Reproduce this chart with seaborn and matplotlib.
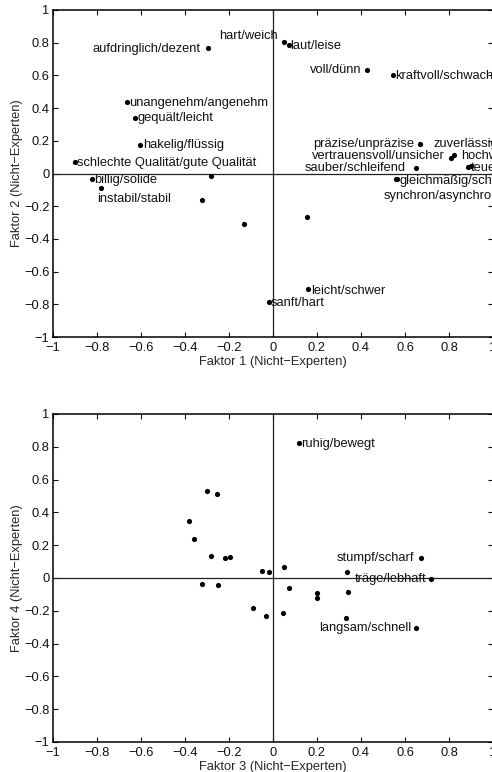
import numpy as np
import pandas as pd
import seaborn as sns
import matplotlib
matplotlib.use("Agg")
import matplotlib.pyplot as plt

# Faktor 1 / Faktor 2 (Nicht-Experten)
labels_12 = ["hart/weich", "laut/leise", "aufdringlich/dezent", "voll/dünn",
             "kraftvoll/schwach", "unangenehm/angenehm", "gequält/leicht",
             "hakelig/flüssig", "schlechte Qualität/gute Qualität", "billig/solide",
             "instabil/stabil", "präzise/unpräzise", "zuverlässig/unzuverlässig",
             "vertrauensvoll/unsicher", "hochwertig/minderwertig", "sauber/schleifend",
             "teuer/billig", "gleichmäßig/schwankend", "synchron/asynchron",
             "leicht/schwer", "sanft/hart", "", "", "", ""]
faktor1 = [0.051, 0.071, -0.297, 0.429, 0.544, -0.664, -0.626, -0.603, -0.901, -0.823,
           -0.780, 0.670, 0.900, 0.808, 0.823, 0.648, 0.885, 0.559, 0.563, 0.161,
           -0.018, -0.283, -0.324, -0.133, 0.153]
faktor2 = [0.806, 0.784, 0.770, 0.633, 0.602, 0.439, 0.341, 0.176, 0.070, -0.034,
           -0.087, 0.179, 0.048, 0.097, 0.113, 0.034, 0.038, -0.036, -0.032, -0.708,
           -0.788, -0.013, -0.162, -0.307, -0.264]

# Faktor 3 / Faktor 4 (Nicht-Experten)
labels_34 = ["ruhig/bewegt", "stumpf/scharf", "träge/lebhaft", "langsam/schnell"] + [""] * 21
faktor3 = [0.117, 0.671, 0.718, 0.652, -0.300, -0.255, -0.380, -0.361, -0.280, -0.220,
           -0.197, -0.321, -0.250, -0.049, -0.017, 0.050, 0.074, -0.091, -0.032, 0.047,
           0.201, 0.201, 0.335, 0.342, 0.332]
faktor4 = [0.821, 0.124, -0.004, -0.307, 0.530, 0.514, 0.345, 0.240, 0.136, 0.122,
           0.128, -0.039, -0.041, 0.045, 0.035, 0.067, -0.061, -0.183, -0.230, -0.215,
           -0.093, -0.120, 0.038, -0.087, -0.246]

tick_vals = [-1, -0.8, -0.6, -0.4, -0.2, 0, 0.2, 0.4, 0.6, 0.8, 1]
tick_labels = ["\u22121", "\u22120.8", "\u22120.6", "\u22120.4", "\u22120.2", "0",
               "0.2", "0.4", "0.6", "0.8", "1"]

# placement of the labels (ha, dx, dy in pixels)
place_12 = {
    "hart/weich": ("right", -6.6, 5.7),
    "laut/leise": ("left", 1.5, -0.7),
    "aufdringlich/dezent": ("right", -7, -1.3),
    "voll/dünn": ("right", -5.6, 0),
    "kraftvoll/schwach": ("left", 2.6, -1),
    "unangenehm/angenehm": ("left", 2.3, -1.2),
    "gequält/leicht": ("left", 2.4, -0.5),
    "hakelig/flüssig": ("left", 3, -0.5),
    "schlechte Qualität/gute Qualität": ("left", 2.6, -0.5),
    "billig/solide": ("left", 2.7, -0.5),
    "instabil/stabil": ("left", -4.6, -11.5),
    "präzise/unpräzise": ("right", -6.3, 0),
    "zuverlässig/unzuverlässig": ("left", -37.7, 21.7),
    "vertrauensvoll/unsicher": ("right", -6.4, 1.7),
    "hochwertig/minderwertig": ("left", 7, -1),
    "sauber/schleifend": ("right", -9.7, 0),
    "teuer/billig": ("left", 3, -0.7),
    "gleichmäßig/schwankend": ("left", 3.3, -1.4),
    "synchron/asynchron": ("left", -13.6, -17),
    "leicht/schwer": ("left", 2.7, -1.4),
    "sanft/hart": ("left", 2, -0.4),
}
place_34 = {
    "ruhig/bewegt": ("left", 2.3, -1),
    "stumpf/scharf": ("right", -6.4, 0),
    "träge/lebhaft": ("right", -5, 0),
    "langsam/schnell": ("right", -5.6, 0.6),
}

sns.set_style("ticks")
plt.rcParams["font.family"] = ["Liberation Sans", "DejaVu Sans"]
plt.rcParams["font.size"] = 9.3

W, H = 492, 772
fig = plt.figure(figsize=(W / 100, H / 100), dpi=100)
fig.patch.set_facecolor("white")


def panel(rect, xs, ys, labels, place, xlabel, ylabel):
    ax = fig.add_axes(rect)
    ax.axhline(0, color="#222222", lw=0.9, zorder=1)
    ax.axvline(0, color="#222222", lw=0.9, zorder=1)
    df = pd.DataFrame({"x": xs, "y": ys, "label": labels})
    sns.scatterplot(data=df, x="x", y="y", ax=ax, color="black", s=14,
                    linewidth=0, zorder=3)
    for _, row in df.iterrows():
        if row["label"] in place:
            ha, dx, dy = place[row["label"]]
            ax.annotate(row["label"], (row["x"], row["y"]), xytext=(dx, dy),
                        textcoords="offset pixels", ha=ha, va="center",
                        fontsize=9.3, color="#111111", annotation_clip=False)
    ax.set_xlim(-1, 1)
    ax.set_ylim(-1, 1)
    ax.set_xticks(tick_vals)
    ax.set_xticklabels(tick_labels)
    ax.set_yticks(tick_vals)
    ax.set_yticklabels(tick_labels)
    ax.tick_params(direction="in", length=3.6, width=0.8, top=True, right=True,
                   labelsize=9.3, colors="#111111")
    ax.tick_params(axis="y", pad=2.5)
    for sp in ax.spines.values():
        sp.set_visible(True)
        sp.set_linewidth(1.1)
        sp.set_color("black")
    ax.set_xlabel(xlabel, labelpad=1.5, fontsize=9.3)
    ax.set_ylabel(ylabel, labelpad=1, fontsize=9.3)
    return ax


panel([53 / W, 1 - 337 / H, 440 / W, 327 / H], faktor1, faktor2, labels_12, place_12,
      "Faktor 1 (Nicht\u2212Experten)", "Faktor 2 (Nicht\u2212Experten)")
panel([53 / W, 1 - 742 / H, 440 / W, 328 / H], faktor3, faktor4, labels_34, place_34,
      "Faktor 3 (Nicht\u2212Experten)", "Faktor 4 (Nicht\u2212Experten)")

fig.savefig("out.png", dpi=100)
